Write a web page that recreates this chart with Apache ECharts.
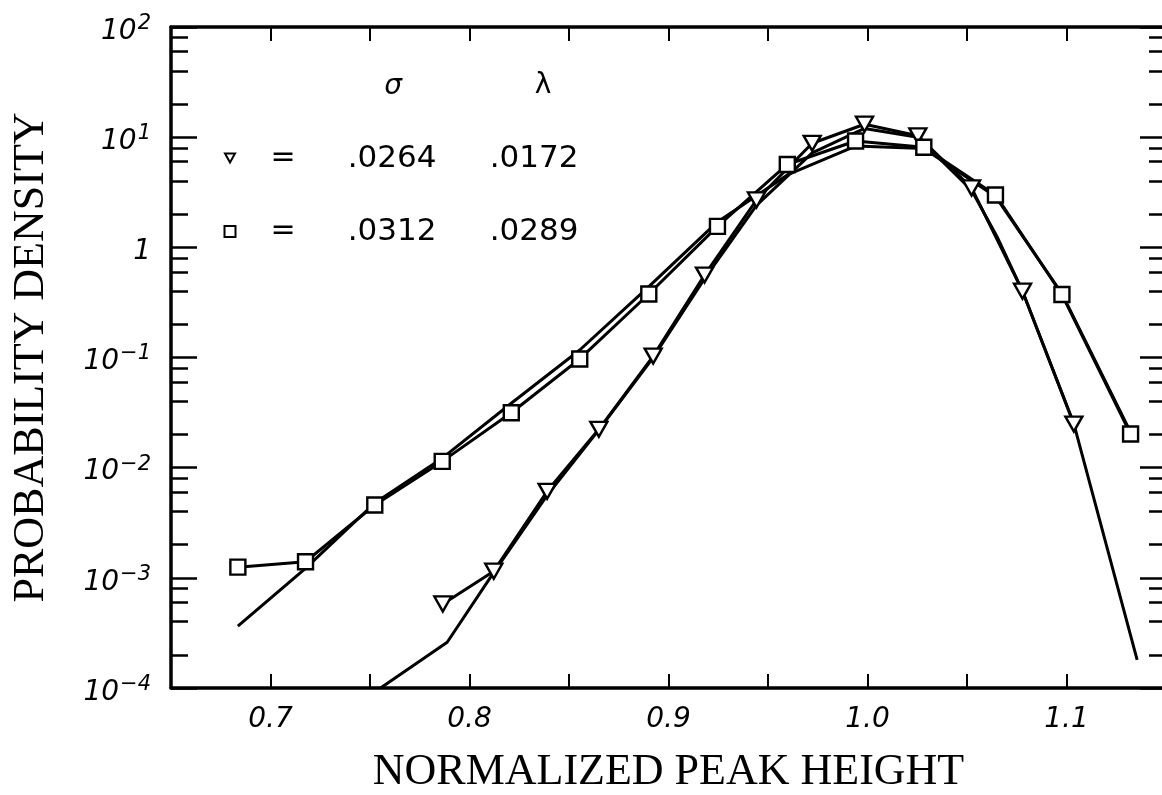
<!DOCTYPE html>
<html><head><meta charset="utf-8">
<script src="https://cdn.jsdelivr.net/npm/echarts@6/dist/echarts.min.js"></script>
<style>html,body{margin:0;padding:0;background:#fff}#c{width:1162px;height:795px}</style>
</head><body><div id="c"></div>
<script>
// ---- data ----
const triX = [0.7866, 0.8122, 0.8390, 0.8650, 0.8923, 0.9181, 0.9442, 0.9722, 0.9985, 1.0253, 1.0523, 1.0779, 1.1037];
const triY = [5.8e-4, 1.15e-3, 6.1e-3, 0.0223, 0.103, 0.56, 2.69, 8.8, 13.1, 10.3, 3.46, 0.40, 0.0249];

const sqX = [0.6836, 0.7176, 0.7524, 0.7863, 0.8210, 0.8554, 0.8901, 0.9246, 0.9597, 0.9940, 1.0283, 1.0643, 1.0977, 1.1322];
const sqY = [1.25e-3, 1.40e-3, 4.58e-3, 0.0114, 0.0315, 0.097, 0.377, 1.55, 5.65, 9.23, 8.09, 2.99, 0.373, 0.0202];

const fitTX = [0.7553, 0.7888, 0.8122, 0.8390, 0.8650, 0.8923, 0.9181, 0.9442, 0.9722, 0.9985, 1.0253, 1.0523, 1.0651, 1.0779, 1.1037, 1.1355];
const fitTY = [1.0e-4, 2.6e-4, 1.12e-3, 5.6e-3, 0.022, 0.100, 0.52, 2.4, 7.2, 12.0, 10.0, 3.3, 1.25, 0.40, 0.025, 1.8e-4];

const fitSX = [0.6836, 0.7176, 0.7524, 0.7863, 0.8210, 0.8554, 0.8901, 0.9246, 0.9597, 0.9940, 1.0283, 1.0643, 1.0977, 1.1322];
const fitSY = [3.65e-4, 1.22e-3, 4.78e-3, 0.0122, 0.0384, 0.117, 0.44, 1.70, 4.54, 8.3, 7.9, 2.9, 0.38, 0.021];

const legendSigma = ['.0264', '.0312'];
const legendLambda = ['.0172', '.0289'];

// ---- axis ticks ----
const xMin = 0.65, xMax = 1.15, xStep = 0.05;
const yMin = 1e-4, yMax = 1e2;
const yDecades = [-4, -3, -2, -1, 0, 1, 2];
const yMinorMult = [2, 4, 6, 8];
const yMajor = yDecades.map(d => Math.pow(10, d));
const yMinor = [];
yDecades.slice(0, -1).forEach(d => yMinorMult.forEach(m => yMinor.push(m * Math.pow(10, d))));

const pairs = (xs, ys) => xs.map((x, i) => [x, ys[i]]);

function supLabel(v) {
  const n = Math.round(Math.log10(v));
  if (n === 0) return '{b|1}';
  const s = n < 0 ? '\u2212' + (-n) : String(n);
  return '{b|10}{s|' + s + '}';
}

const chart = echarts.init(document.getElementById('c'), null, {renderer: 'canvas'});
const LINE = '#000';
const FONT = 'DejaVu Sans';
const LW = 3;

const baseY = {
  type: 'log', logBase: 10, min: yMin, max: yMax,
  splitLine: {show: false}, minorTick: {show: false}, minorSplitLine: {show: false}
};

chart.setOption({
  animation: false,
  backgroundColor: '#fff',
  grid: {left: 171, top: 27, width: 995, height: 661, containLabel: false, outerBoundsMode: 'none'},
  xAxis: [{
    type: 'value', min: xMin, max: xMax, interval: xStep, position: 'bottom',
    name: 'NORMALIZED PEAK HEIGHT', nameLocation: 'middle', nameGap: 62,
    nameTextStyle: {fontFamily: 'Liberation Serif', fontSize: 44, color: '#000'},
    axisLine: {show: true, lineStyle: {color: LINE, width: 3.5}},
    axisTick: {show: true, inside: true, length: 14, lineStyle: {color: LINE, width: 2}},
    axisLabel: {
      margin: 18, color: '#000', fontFamily: FONT, fontStyle: 'italic', fontSize: 28,
      showMinLabel: true, showMaxLabel: true,
      formatter: v => (Math.abs(v * 10 - Math.round(v * 10)) < 1e-6) ? v.toFixed(1) : ''
    },
    splitLine: {show: false}
  }, {
    type: 'value', min: xMin, max: xMax, interval: xStep, position: 'top',
    axisLine: {show: true, lineStyle: {color: LINE, width: 3.5}},
    axisTick: {show: true, inside: true, length: 14, lineStyle: {color: LINE, width: 2}},
    axisLabel: {show: false}, splitLine: {show: false}
  }],
  yAxis: [
    Object.assign({}, baseY, {
      position: 'left',
      name: 'PROBABILITY DENSITY', nameLocation: 'middle', nameGap: 118, nameRotate: 90,
      nameTextStyle: {fontFamily: 'Liberation Serif', fontSize: 44, color: '#000'},
      axisLine: {show: true, lineStyle: {color: LINE, width: 3.5}},
      axisTick: {show: true, inside: true, length: 26, lineStyle: {color: LINE, width: 2.5}, customValues: yMajor},
      axisLabel: {
        show: true, margin: 20, customValues: yMajor, formatter: supLabel,
        rich: {
          b: {fontFamily: FONT, fontStyle: 'italic', fontSize: 28, lineHeight: 28, padding: [9, 0, 0, 0], color: '#000'},
          s: {fontFamily: FONT, fontStyle: 'italic', fontSize: 21, lineHeight: 21, verticalAlign: 'top', padding: [0, 0, 0, 1], color: '#000'}
        }
      }
    }),
    Object.assign({}, baseY, {
      position: 'left',
      axisLine: {show: false},
      axisTick: {show: true, inside: true, length: 17, lineStyle: {color: LINE, width: 2.5}, customValues: yMinor},
      axisLabel: {show: false}
    }),
    Object.assign({}, baseY, {
      position: 'right',
      axisLine: {show: true, lineStyle: {color: LINE, width: 3.5}},
      axisTick: {show: true, inside: true, length: 26, lineStyle: {color: LINE, width: 2.5}, customValues: yMajor},
      axisLabel: {show: false}
    }),
    Object.assign({}, baseY, {
      position: 'right',
      axisLine: {show: false},
      axisTick: {show: true, inside: true, length: 17, lineStyle: {color: LINE, width: 2.5}, customValues: yMinor},
      axisLabel: {show: false}
    })
  ],
  series: [
    {
      name: 'fit σ=.0264', type: 'line', xAxisIndex: 0, yAxisIndex: 0,
      data: pairs(fitTX, fitTY), showSymbol: false, symbol: 'none', clip: true,
      lineStyle: {color: LINE, width: LW}, z: 2
    },
    {
      name: 'fit σ=.0312', type: 'line', xAxisIndex: 0, yAxisIndex: 0,
      data: pairs(fitSX, fitSY), showSymbol: false, symbol: 'none', clip: true,
      lineStyle: {color: LINE, width: LW}, z: 2
    },
    {
      name: '∇', type: 'line', xAxisIndex: 0, yAxisIndex: 0,
      data: pairs(triX, triY), symbol: 'triangle', symbolRotate: 180, symbolSize: [17, 15],
      itemStyle: {color: '#fff', borderColor: LINE, borderWidth: 2.4},
      lineStyle: {color: LINE, width: LW}, z: 3
    },
    {
      name: '□', type: 'line', xAxisIndex: 0, yAxisIndex: 0,
      data: pairs(sqX, sqY), symbol: 'rect', symbolSize: 15,
      itemStyle: {color: '#fff', borderColor: LINE, borderWidth: 2.4},
      lineStyle: {color: LINE, width: LW}, z: 3
    }
  ],
  graphic: [
    {type: 'text', x: 393, y: 87, style: {text: 'σ', fontFamily: FONT, fontStyle: 'italic', fontSize: 28, fill: '#000', align: 'center', verticalAlign: 'middle'}},
    {type: 'text', x: 543, y: 86, style: {text: 'λ', fontFamily: FONT, fontSize: 28, fill: '#000', align: 'center', verticalAlign: 'middle'}},
    {type: 'polygon', shape: {points: [[225, 153.5], [235, 153.5], [230, 162.5]]}, style: {fill: '#fff', stroke: '#000', lineWidth: 2}},
    {type: 'rect', shape: {x: 224.5, y: 226, width: 11, height: 11}, style: {fill: '#fff', stroke: '#000', lineWidth: 2}},
    {type: 'text', x: 283, y: 158, style: {text: '=', fontFamily: FONT, fontSize: 30, fill: '#000', align: 'center', verticalAlign: 'middle'}},
    {type: 'text', x: 283, y: 231, style: {text: '=', fontFamily: FONT, fontSize: 30, fill: '#000', align: 'center', verticalAlign: 'middle'}},
    {type: 'text', x: 392, y: 159, style: {text: legendSigma[0], fontFamily: FONT, fontSize: 31, fill: '#000', align: 'center', verticalAlign: 'middle'}},
    {type: 'text', x: 534, y: 159, style: {text: legendLambda[0], fontFamily: FONT, fontSize: 31, fill: '#000', align: 'center', verticalAlign: 'middle'}},
    {type: 'text', x: 392, y: 232, style: {text: legendSigma[1], fontFamily: FONT, fontSize: 31, fill: '#000', align: 'center', verticalAlign: 'middle'}},
    {type: 'text', x: 534, y: 232, style: {text: legendLambda[1], fontFamily: FONT, fontSize: 31, fill: '#000', align: 'center', verticalAlign: 'middle'}}
  ]
});
</script>
</body></html>
